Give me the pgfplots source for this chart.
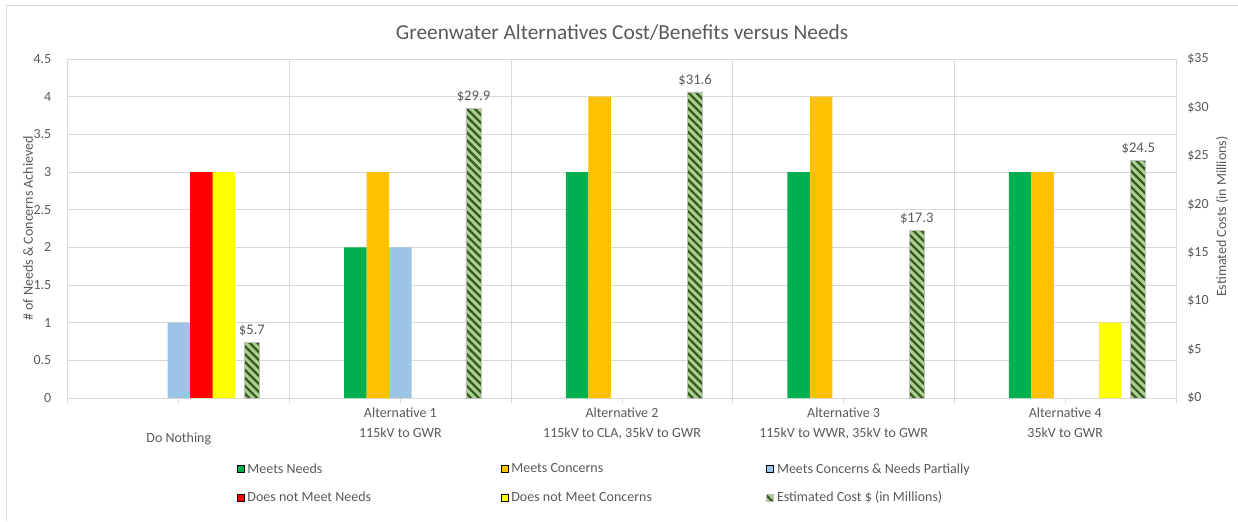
\documentclass[border=0pt]{standalone}
\usepackage{fontspec}
\setmainfont{Carlito}
\usepackage{pgfplots}
\pgfplotsset{compat=1.18}
\usetikzlibrary{patterns.meta}

\definecolor{needsgreen}{HTML}{00B050}
\definecolor{concorange}{HTML}{FFC000}
\definecolor{partblue}{HTML}{9DC3E6}
\definecolor{noneedred}{HTML}{FF0000}
\definecolor{noconcyellow}{HTML}{FFFF00}
\definecolor{costfill}{HTML}{A9D18E}
\definecolor{stripe}{HTML}{375623}
\definecolor{costedge}{HTML}{BFBFBF}
\definecolor{gridgray}{HTML}{D9D9D9}
\definecolor{textgray}{HTML}{595959}

\tikzset{
  coststyle/.style={fill=costfill, draw=costedge, line width=0.6pt,
    postaction={pattern={Lines[angle=-45,distance=4.2pt,line width=1.7pt]}, pattern color=stripe}}
}

\begin{document}
\begin{tikzpicture}
\useasboundingbox (-51pt,-92.25pt) rectangle (877.5pt,298.5pt);
% outer chart border (only left and top are inside the picture)
\draw[gridgray, line width=0.75pt] (-45.75pt,-92.25pt) -- (-45.75pt,294pt) -- (877.5pt,294pt);

\begin{axis}[
    at={(0,0)}, anchor=south west,
    scale only axis, width=831pt, height=254.25pt,
    ybar, bar width=0.1015,
    xmin=-0.5, xmax=4.5, ymin=0, ymax=4.5,
    ytick={0,0.5,...,4.5},
    xtick={0,1,2,3,4},
    xticklabels={{\strut\\Do Nothing},
                 {Alternative 1\\115kV to GWR},
                 {Alternative 2\\115kV to CLA, 35kV to GWR},
                 {Alternative 3\\115kV to WWR, 35kV to GWR},
                 {Alternative 4\\35kV to GWR}},
    minor xtick={-0.5,0.5,...,4.5},
    xminorgrids, ymajorgrids,
    grid style={draw=gridgray, line width=0.75pt},
    minor grid style={draw=gridgray, line width=0.75pt},
    axis line style={draw=gridgray, line width=0.75pt},
    xtick pos=left, ytick pos=left,
    tick align=outside,
    major tick length=4pt, minor tick length=4pt,
    xtick style={draw=gridgray, line width=0.75pt},
    ytick style={draw=none},
    /pgf/number format/assume math mode=true,
    tick label style={text=textgray, font=\fontsize{10.5}{15}\selectfont},
    xticklabel style={align=center, yshift=0pt},
    yticklabel style={xshift=-5pt},
    ylabel={\# of Needs \& Concerns Achieved},
    ylabel style={at={(axis description cs:-0.0361,0.5)}, anchor=center,
                  text=textgray, font=\fontsize{10.5}{12}\selectfont},
    title={Greenwater Alternatives Cost/Benefits versus Needs},
    title style={at={(axis description cs:0.5,1)}, anchor=center, yshift=13.5pt,
                 text=textgray, font=\fontsize{16}{18}\selectfont},
    y filter/.expression={y==0 ? nan : y},
    unbounded coords=discard,
    legend columns=3,
    legend image code/.code={\draw[#1] (0pt,-2.6pt) rectangle (5.25pt,2.6pt);},
    legend style={at={(axis description cs:0.1525,-0.184)}, anchor=north west,
                  draw=none, fill=none, inner sep=0pt,
                  font=\fontsize{10.5}{12}\selectfont, text=textgray,
                  row sep=8.5pt,
                  /tikz/every even column/.append style={column sep=8.3pt}},
    legend cell align=left,
]
\addplot[fill=needsgreen, draw=none, bar shift=-0.203]
    coordinates {(0,0) (1,2) (2,3) (3,3) (4,3)};
\addlegendentry{\makebox[180pt][l]{Meets Needs}}
\addplot[fill=concorange, draw=none, bar shift=-0.1015]
    coordinates {(0,0) (1,3) (2,4) (3,4) (4,3)};
\addlegendentry{\makebox[180pt][l]{Meets Concerns}}
\addplot[fill=partblue, draw=none, bar shift=0]
    coordinates {(0,1) (1,2) (2,0) (3,0) (4,0)};
\addlegendentry{\makebox[180pt][l]{Meets Concerns \& Needs Partially}}
\addplot[fill=noneedred, draw=none, bar shift=0.1015]
    coordinates {(0,3) (1,0) (2,0) (3,0) (4,0)};
\addlegendentry{\makebox[180pt][l]{Does not Meet Needs}}
\addplot[fill=noconcyellow, draw=none, bar shift=0.203]
    coordinates {(0,3) (1,0) (2,0) (3,0) (4,1)};
\addlegendentry{\makebox[180pt][l]{Does not Meet Concerns}}
\addlegendimage{coststyle}
\addlegendentry{\makebox[180pt][l]{Estimated Cost \$ (in Millions)}}
\end{axis}

\begin{axis}[
    at={(0,0)}, anchor=south west,
    scale only axis, width=831pt, height=254.25pt,
    ybar, bar width=0.068,
    xmin=-0.5, xmax=4.5, ymin=0, ymax=35,
    ytick={0,5,...,35},
    axis x line=none, axis y line*=right,
    axis line style={draw=gridgray, line width=0.75pt},
    ytick style={draw=none},
    /pgf/number format/assume math mode=true,
    yticklabel={\$\pgfmathprintnumber{\tick}},
    tick label style={text=textgray, font=\fontsize{10.5}{12}\selectfont},
    yticklabel style={xshift=5pt},
    ylabel={Estimated Costs (in Millions)},
    ylabel style={at={(axis description cs:1.0415,0.535)}, anchor=center,
                  text=textgray, font=\fontsize{10.5}{12}\selectfont},
]
\addplot[coststyle, bar shift=0.33,
    nodes near coords={\$\pgfmathprintnumber[fixed,fixed zerofill,precision=1]{\pgfplotspointmeta}},
    every node near coord/.append style={text=textgray, font=\fontsize{11}{13}\selectfont, yshift=1pt}]
    coordinates {(0,5.7) (1,29.9) (2,31.6) (3,17.3) (4,24.5)};
\end{axis}
\end{tikzpicture}
\end{document}
